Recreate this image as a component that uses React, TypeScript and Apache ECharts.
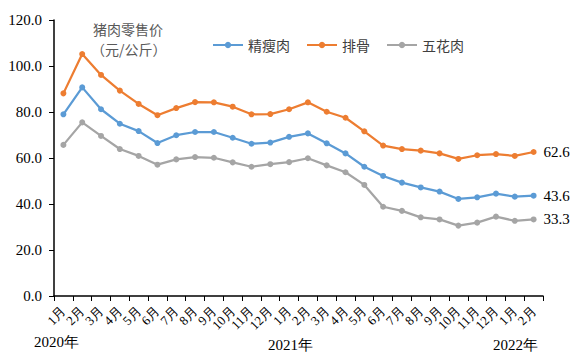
import React, { useEffect, useRef } from "react";
import * as echarts from "echarts";

const months = [
  "1月", "2月", "3月", "4月", "5月", "6月", "7月", "8月", "9月", "10月", "11月", "12月",
  "1月", "2月", "3月", "4月", "5月", "6月", "7月", "8月", "9月", "10月", "11月", "12月",
  "1月", "2月",
];
const yearLabels = ["2020年", "2021年", "2022年"];
const lean = [
  79.0, 90.7, 81.2, 74.9, 71.7, 66.5, 69.9, 71.3, 71.3, 68.8, 66.2, 66.7,
  69.2, 70.7, 66.4, 62.0, 56.2, 52.2, 49.3, 47.2, 45.4, 42.2, 42.9, 44.5,
  43.2, 43.6,
];
const ribs = [
  88.1, 105.2, 96.1, 89.3, 83.5, 78.6, 81.7, 84.3, 84.2, 82.3, 79.0, 79.1,
  81.2, 84.2, 80.1, 77.5, 71.6, 65.4, 63.9, 63.2, 62.0, 59.6, 61.2, 61.7,
  60.9, 62.6,
];
const belly = [
  65.7, 75.5, 69.6, 63.9, 60.9, 57.1, 59.4, 60.4, 60.1, 58.1, 56.2, 57.3,
  58.2, 59.9, 56.8, 53.8, 48.3, 38.8, 37.0, 34.2, 33.3, 30.6, 31.9, 34.5,
  32.7, 33.3,
];
const seriesNames = ["精瘦肉", "排骨", "五花肉"];
const colors = ["#5B9BD5", "#ED7D31", "#A5A5A5"];

const serif = "Liberation Serif";
const cjk = "Noto Sans CJK SC";

function makeData(arr: number[]) {
  return arr.map((v, i) =>
    i === arr.length - 1
      ? {
          value: v,
          label: {
            show: true,
            position: "right",
            distance: 7,
            formatter: (p: any) => Number(p.value).toFixed(1),
            fontFamily: serif,
            fontSize: 15,
            color: "#000",
          },
        }
      : v
  );
}

export default function App() {
  const ref = useRef<HTMLDivElement>(null);
  useEffect(() => {
    const chart = echarts.init(ref.current!, undefined, { renderer: "svg" });
    const all = [lean, ribs, belly];
    const yearText = (text: string, left: number, top: number) => ({
      type: "text",
      left,
      top,
      style: { text, fontFamily: serif, fontSize: 15, fill: "#000" },
    });
    chart.setOption({
      animation: false,
      backgroundColor: "#fff",
      grid: { left: 54, right: 35, top: 20, bottom: 64 },
      legend: {
        top: 33,
        left: 207,
        itemWidth: 30,
        itemHeight: 8,
        itemGap: 16,
        textStyle: { fontFamily: cjk, fontSize: 14, color: "#404040" },
        data: seriesNames,
      },
      graphic: [
        {
          type: "text",
          left: 93,
          top: 22,
          style: { text: "猪肉零售价", fontFamily: cjk, fontSize: 14, fill: "#595959" },
        },
        {
          type: "text",
          left: 91,
          top: 42,
          style: { text: "（元/公斤）", fontFamily: cjk, fontSize: 14, fill: "#595959" },
        },
        yearText(yearLabels[0], 34, 334),
        yearText(yearLabels[1], 268, 337),
        yearText(yearLabels[2], 493, 337),
      ],
      xAxis: {
        type: "category",
        data: months,
        boundaryGap: true,
        axisLine: { lineStyle: { color: "#000", width: 1.5 } },
        axisTick: { show: true, length: 5, lineStyle: { color: "#000" } },
        axisLabel: {
          interval: 0,
          rotate: 45,
          fontFamily: serif,
          fontSize: 13,
          color: "#000",
          margin: 13,
        },
      },
      yAxis: {
        type: "value",
        min: 0,
        max: 120,
        interval: 20,
        axisLine: { show: true, lineStyle: { color: "#000", width: 1.5 } },
        axisTick: { show: true, length: 5, lineStyle: { color: "#000" } },
        splitLine: { show: false },
        axisLabel: {
          formatter: (v: number) => v.toFixed(1),
          fontFamily: serif,
          fontSize: 15,
          color: "#000",
          margin: 12,
        },
      },
      series: seriesNames.map((name, i) => ({
        name,
        type: "line",
        data: makeData(all[i]),
        symbol: "circle",
        symbolSize: 6,
        itemStyle: { color: colors[i] },
        lineStyle: { color: colors[i], width: 2.25 },
      })),
    });
    return () => chart.dispose();
  }, []);
  return <div ref={ref} style={{ width: 578, height: 360, margin: -8 }} />;
}
